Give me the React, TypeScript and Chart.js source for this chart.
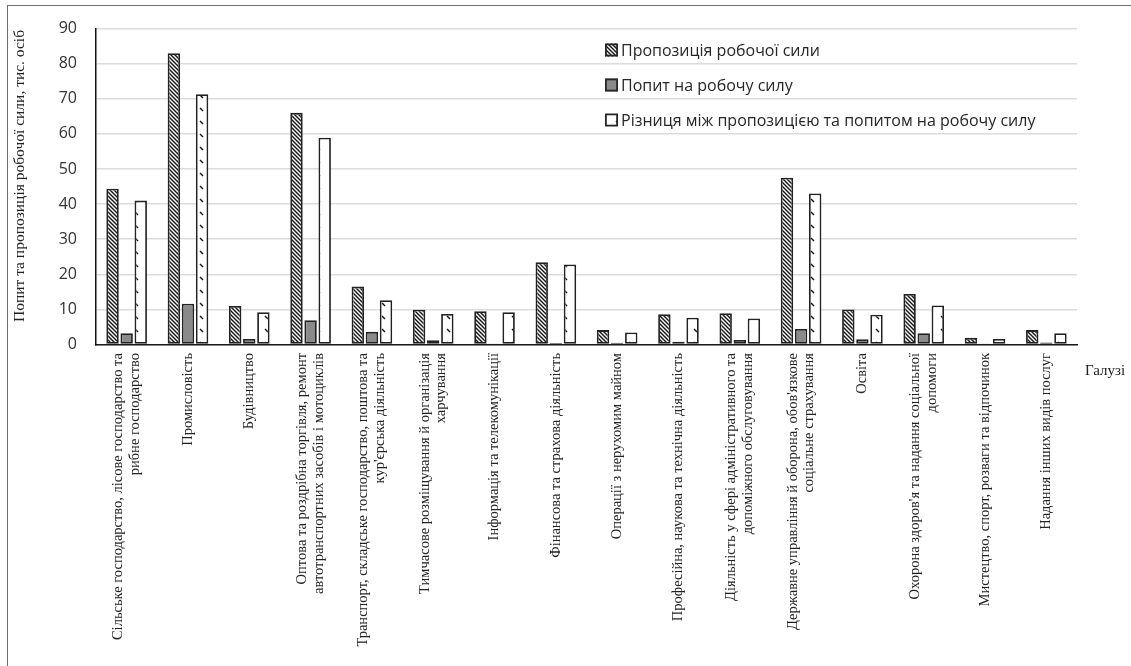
import React, { useEffect, useRef } from 'react';
import { Chart, registerables } from 'chart.js';

Chart.register(...registerables);

const categories: string[][] = [
  ['Сільське господарство, лісове господарство та', 'рибне господарство'],
  ['Промисловість'],
  ['Будівництво'],
  ['Оптова та роздрібна торгівля, ремонт', 'автотранспортних засобів і мотоциклів'],
  ['Транспорт, складське господарство, поштова та', "кур'єрська діяльність"],
  ['Тимчасове розміщування й організація', 'харчування'],
  ['Інформація та телекомунікації'],
  ['Фінансова та страхова діяльність'],
  ['Операції з нерухомим майном'],
  ['Професійна, наукова та технічна діяльність'],
  ['Діяльність у сфері адміністративного та', 'допоміжного обслуговування'],
  ["Державне управління й оборона, обов'язкове", 'соціальне страхування'],
  ['Освіта'],
  ["Охорона здоров'я та надання соціальної", 'допомоги'],
  ['Мистецтво, спорт, розваги та відпочинок'],
  ['Надання інших видів послуг'],
];

const supply = [44.4, 83.0, 11.0, 66.0, 16.5, 9.9, 9.5, 23.4, 4.1, 8.6, 8.9, 47.5, 10.0, 14.4, 1.9, 4.1];
const demand = [3.2, 11.6, 1.6, 6.9, 3.6, 1.2, 0.3, 0.4, 0.5, 0.8, 1.3, 4.4, 1.5, 3.2, 0.3, 0.6];
const gap = [41.0, 71.3, 9.2, 58.9, 12.6, 8.7, 9.2, 22.8, 3.4, 7.6, 7.4, 43.0, 8.5, 11.1, 1.6, 3.2];

const seriesNames = [
  'Пропозиція робочої сили',
  'Попит на робочу силу',
  'Різниця між пропозицією та попитом на робочу силу',
];
const yTicks = [0, 10, 20, 30, 40, 50, 60, 70, 80, 90];
const yTitle = 'Попит та пропозиція робочої сили, тис. осіб';
const xTitle = 'Галузі';

function densePattern(): CanvasPattern | string {
  const c = document.createElement('canvas');
  c.width = 4;
  c.height = 4;
  const g = c.getContext('2d');
  if (!g) return '#fff';
  g.fillStyle = '#ffffff';
  g.fillRect(0, 0, 4, 4);
  g.strokeStyle = '#141414';
  g.lineWidth = 1.4;
  for (let k = -1; k <= 1; k++) {
    g.beginPath();
    g.moveTo(k * 4 - 1, -1);
    g.lineTo(k * 4 + 5, 5);
    g.stroke();
  }
  return g.createPattern(c, 'repeat') as CanvasPattern;
}

function sparsePattern(): CanvasPattern | string {
  const c = document.createElement('canvas');
  c.width = 13;
  c.height = 13;
  const g = c.getContext('2d');
  if (!g) return '#fff';
  g.fillStyle = '#ffffff';
  g.fillRect(0, 0, 13, 13);
  g.strokeStyle = '#141414';
  g.lineWidth = 1.4;
  g.beginPath();
  g.moveTo(5, 4);
  g.lineTo(8, 7);
  g.stroke();
  return g.createPattern(c, 'repeat') as CanvasPattern;
}

export default function App() {
  const ref = useRef<HTMLCanvasElement | null>(null);

  useEffect(() => {
    document.body.style.margin = '0';
    const canvas = ref.current;
    if (!canvas) return;
    const p1 = densePattern();
    const p3 = sparsePattern();
    const fills = [p1, '#8a8a8a', p3];

    const extras = {
      id: 'extras',
      afterDraw(chart: any) {
        const ctx = chart.ctx as CanvasRenderingContext2D;
        const xs = chart.scales.x;
        ctx.save();
        // outer frame
        ctx.strokeStyle = '#6e6e6e';
        ctx.lineWidth = 1;
        ctx.strokeRect(7.5, 5.5, 1140, 680);

        // category labels
        ctx.fillStyle = '#222';
        ctx.font = '14.5px "Liberation Serif", "Times New Roman", serif';
        ctx.textAlign = 'right';
        ctx.textBaseline = 'middle';
        const lh = 16.5;
        categories.forEach((lines, i) => {
          const px = xs.getPixelForTick(i);
          const n = lines.length;
          lines.forEach((t, j) => {
            const x = px + (j - (n - 1) / 2) * lh;
            ctx.save();
            ctx.translate(x, 353);
            ctx.rotate(-Math.PI / 2);
            ctx.fillText(t, 0, 0);
            ctx.restore();
          });
        });

        // y title
        ctx.save();
        ctx.font = '15.5px "Liberation Serif", "Times New Roman", serif';
        ctx.translate(20, 176);
        ctx.rotate(-Math.PI / 2);
        ctx.textAlign = 'center';
        ctx.fillText(yTitle, 0, 0);
        ctx.restore();

        // x title
        ctx.textAlign = 'left';
        ctx.font = '15px "Liberation Serif", "Times New Roman", serif';
        ctx.fillText(xTitle, 1085, 371);

        // legend
        const rows = [50, 85, 120];
        ctx.font = '16px "Open Sans", sans-serif';
        seriesNames.forEach((name, i) => {
          const y = rows[i];
          ctx.fillStyle = fills[i] as any;
          ctx.fillRect(605, y - 6.5, 13, 13);
          ctx.strokeStyle = '#262626';
          ctx.lineWidth = 1.8;
          ctx.strokeRect(605.9, y - 5.6, 11.2, 11.2);
          ctx.fillStyle = '#262626';
          ctx.textAlign = 'left';
          ctx.textBaseline = 'middle';
          ctx.fillText(name, 621, y + 1);
        });
        ctx.restore();
      },
    };

    const chart = new Chart(canvas, {
      type: 'bar',
      data: {
        labels: categories.map((c) => c.join(' ')),
        datasets: [
          { label: seriesNames[0], data: supply, backgroundColor: p1 as any },
          { label: seriesNames[1], data: demand, backgroundColor: '#8a8a8a' },
          { label: seriesNames[2], data: gap, backgroundColor: p3 as any },
        ].map((d) => ({
          ...d,
          borderColor: '#222',
          borderWidth: 1.8,
          borderSkipped: false as any,
          categoryPercentage: 0.69,
          barPercentage: 0.88,
        })),
      },
      options: {
        responsive: false,
        animation: false,
        devicePixelRatio: 1,
        layout: { padding: { left: 0, top: 25.5, right: 54, bottom: 0 } },
        plugins: {
          legend: { display: false },
          tooltip: { enabled: false },
          title: { display: false },
        },
        scales: {
          x: {
            type: 'category',
            grid: { display: false, drawTicks: false },
            border: { display: true, color: '#1a1a1a', width: 1.5 },
            ticks: { display: false },
            afterFit: (s: any) => {
              s.height = 666 - 344.5;
            },
          },
          y: {
            type: 'linear',
            min: 0,
            max: 90,
            afterBuildTicks: (s: any) => {
              s.ticks = yTicks.map((v) => ({ value: v }));
            },
            grid: { color: '#dcdcdc', lineWidth: 1.5, drawTicks: false },
            border: { display: true, color: '#111', width: 1.5 },
            ticks: {
              padding: 19,
              color: '#333',
              font: { family: 'Open Sans', size: 16 },
            },
            afterFit: (s: any) => {
              s.width = 96;
            },
          },
        },
      },
      plugins: [extras],
    });

    return () => chart.destroy();
  }, []);

  return (
    <div style={{ width: 1131, height: 666 }}>
      <canvas ref={ref} width={1131} height={666} style={{ display: 'block', width: 1131, height: 666 }} />
    </div>
  );
}
